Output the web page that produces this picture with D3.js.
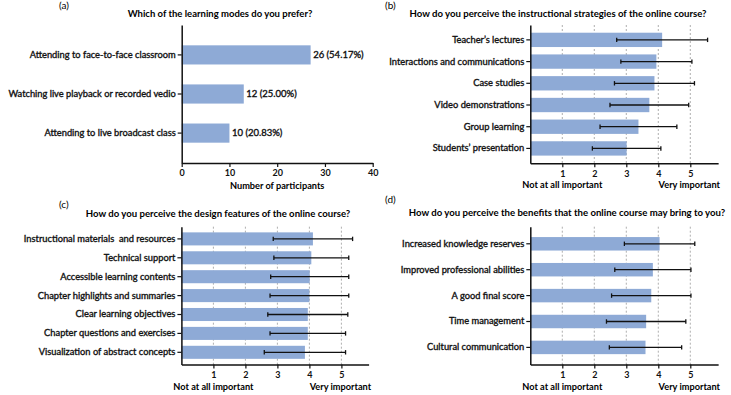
<!DOCTYPE html>
<html>
<head>
<meta charset="utf-8">
<script src="https://cdn.jsdelivr.net/npm/d3@7"></script>
<style>
  body { margin: 0; background: #fff; }
  svg text { font-family: Lato, "Open Sans", sans-serif; white-space: pre; }
</style>
</head>
<body>
<div id="chart"></div>
<script>
// ---- data ----
const modeLabels = ["Attending to face-to-face classroom", "Watching live playback or recorded vedio", "Attending to live broadcast class"];
const modeBars = [27, 13, 10];           // bar lengths as drawn
const modeText = ["26 (54.17%)", "12 (25.00%)", "10 (20.83%)"];
const countTicks = [0, 10, 20, 30, 40];

const strategyLabels = ["Teacher’s lectures", "Interactions and communications", "Case studies", "Video demonstrations", "Group learning", "Students’ presentation"];
const strategyMeans = [4.12, 3.94, 3.88, 3.72, 3.38, 3.01];
const strategySD = [1.42, 1.11, 1.25, 1.23, 1.2, 1.07];

const designLabels = ["Instructional materials  and resources", "Technical support", "Accessible learning contents", "Chapter highlights and summaries", "Clear learning objectives", "Chapter questions and exercises", "Visualization of abstract concepts"];
const designMeans = [4.11, 4.06, 4.01, 4.0, 3.95, 3.95, 3.86];
const designSD = [1.24, 1.17, 1.22, 1.23, 1.25, 1.18, 1.27];

const benefitLabels = ["Increased knowledge reserves", "Improved professional abilities", "A good final score", "Time management", "Cultural communication"];
const benefitMeans = [4.04, 3.83, 3.78, 3.62, 3.6];
const benefitSD = [1.1, 1.19, 1.24, 1.24, 1.13];

const likertTicks = [1, 2, 3, 4, 5];

const barColor = "#8eaad6";

const svg = d3.select("#chart").append("svg")
    .attr("width", 731)
    .attr("height", 395);

function styleAxis(g) {
    g.select(".domain").attr("stroke", "#111").attr("stroke-width", 1.5);
    g.selectAll(".tick line").attr("stroke", "#111").attr("stroke-width", 1.2);
    g.selectAll(".tick text").attr("fill", "#111").attr("font-size", 9);
}

// semi-bold look without widening the text
function semi(sel) {
    sel.attr("stroke", "#111").attr("stroke-width", 0.35).attr("font-size", 9.3);
}

// ---- panel (a) ----
(function () {
    let left = 181.7, right = 372.7, top = 25, bottom = 163;

    let x = d3.scaleLinear().domain([0, 40]).range([left, right]);
    let y = d3.scaleBand().domain(modeLabels).range([top, bottom])
        .paddingInner(0.51).paddingOuter(0.52);

    let g = svg.append("g");

    g.append("text").attr("x", 59).attr("y", 9)
        .attr("font-size", 10).text("(a)");
    g.append("text").attr("x", 220).attr("y", 17)
        .attr("text-anchor", "middle").attr("font-size", 9.5).attr("font-weight", "bold")
        .text("Which of the learning modes do you prefer?");

    g.selectAll(".bar").data(modeLabels).enter().append("rect")
        .attr("x", x(0))
        .attr("y", d => y(d))
        .attr("width", (d, i) => x(modeBars[i]) - x(0))
        .attr("height", y.bandwidth())
        .attr("fill", barColor);

    g.selectAll(".val").data(modeLabels).enter().append("text")
        .attr("x", (d, i) => x(modeBars[i]) + 2.5)
        .attr("y", d => y(d) + y.bandwidth() / 2)
        .attr("dy", "0.35em")
        .attr("fill", "#111")
        .text((d, i) => modeText[i])
        .call(semi)
        .attr("font-size", 9.5);

    g.append("g").attr("transform", `translate(0,${bottom})`)
        .call(d3.axisBottom(x).tickValues(countTicks).tickSize(4).tickSizeOuter(0).tickPadding(3))
        .call(styleAxis)
        .selectAll(".tick text").attr("font-weight", "bold");

    g.append("g").attr("transform", `translate(${left},0)`)
        .call(d3.axisLeft(y).tickSize(4).tickSizeOuter(0).tickPadding(2))
        .call(styleAxis)
        .selectAll(".tick text").call(semi);

    g.append("text").attr("x", (left + right) / 2).attr("y", 189)
        .attr("text-anchor", "middle").attr("font-size", 9.2).attr("font-weight", "bold")
        .text("Number of participants");
})();

// ---- likert panels (b), (c), (d) ----
function likertPanel(opt) {
    let x = d3.scaleLinear().domain([0, opt.max]).range([opt.left, opt.left + opt.max * 32]);
    let y = d3.scaleBand().domain(opt.labels).range([opt.top, opt.bottom])
        .paddingInner(opt.pi).paddingOuter(opt.po);

    let g = svg.append("g");

    g.append("text").attr("x", opt.tagX).attr("y", opt.tagY)
        .attr("font-size", 10).text(opt.tag);
    g.append("text").attr("x", opt.titleX).attr("y", opt.titleY)
        .attr("text-anchor", "middle").attr("font-size", 9.6).attr("font-weight", "bold")
        .text(opt.title);

    // dashed grid
    g.selectAll(".grid").data(likertTicks).enter().append("line")
        .attr("x1", d => x(d)).attr("x2", d => x(d))
        .attr("y1", opt.top).attr("y2", opt.bottom)
        .attr("stroke", "#9a9a9a").attr("stroke-width", 0.8)
        .attr("stroke-dasharray", "2,2");

    g.selectAll(".bar").data(opt.labels).enter().append("rect")
        .attr("x", x(0))
        .attr("y", d => y(d))
        .attr("width", (d, i) => x(opt.means[i]) - x(0))
        .attr("height", y.bandwidth())
        .attr("fill", barColor);

    // error bars (mean ± SD)
    let err = g.selectAll(".err").data(opt.labels).enter().append("g")
        .attr("transform", d => `translate(0,${y(d) + y.bandwidth() / 2})`)
        .attr("stroke", "#111").attr("stroke-width", 1.3);
    err.append("line")
        .attr("x1", (d, i) => x(opt.means[i] - opt.sd[i]))
        .attr("x2", (d, i) => x(opt.means[i] + opt.sd[i]));
    err.append("line")
        .attr("x1", (d, i) => x(opt.means[i] - opt.sd[i]))
        .attr("x2", (d, i) => x(opt.means[i] - opt.sd[i]))
        .attr("y1", -2.2).attr("y2", 2.2);
    err.append("line")
        .attr("x1", (d, i) => x(opt.means[i] + opt.sd[i]))
        .attr("x2", (d, i) => x(opt.means[i] + opt.sd[i]))
        .attr("y1", -2.2).attr("y2", 2.2);

    g.append("g").attr("transform", `translate(0,${opt.bottom})`)
        .call(d3.axisBottom(x).tickValues(likertTicks).tickFormat(d3.format("d"))
            .tickSize(4).tickSizeOuter(0).tickPadding(3))
        .call(styleAxis)
        .selectAll(".tick text").attr("font-weight", "bold");

    g.append("g").attr("transform", `translate(${opt.left},0)`)
        .call(d3.axisLeft(y).tickSize(4).tickSizeOuter(0).tickPadding(2))
        .call(styleAxis)
        .selectAll(".tick text").call(semi);

    g.append("text").attr("x", x(1)).attr("y", opt.bottom + 25)
        .attr("text-anchor", "middle").attr("font-size", 9.2).attr("font-weight", "bold")
        .text("Not at all important");
    g.append("text").attr("x", x(5) - 1).attr("y", opt.bottom + 25)
        .attr("text-anchor", "middle").attr("font-size", 9.2).attr("font-weight", "bold")
        .text("Very important");
}

likertPanel({
    tag: "(b)", tagX: 385, tagY: 9,
    title: "How do you perceive the instructional strategies of the online course?", titleX: 558, titleY: 17,
    labels: strategyLabels, means: strategyMeans, sd: strategySD,
    left: 530.3, top: 25, bottom: 163.3, max: 5.87, pi: 0.34, po: 0.355
});

likertPanel({
    tag: "(c)", tagX: 59, tagY: 208,
    title: "How do you perceive the design features of the online course?", titleX: 218, titleY: 217,
    labels: designLabels, means: designMeans, sd: designSD,
    left: 181.4, top: 226.7, bottom: 364.5, max: 5.85, pi: 0.31, po: 0.3
});

likertPanel({
    tag: "(d)", tagX: 385, tagY: 203,
    title: "How do you perceive the benefits that the online course may bring to you?", titleX: 567, titleY: 216,
    labels: benefitLabels, means: benefitMeans, sd: benefitSD,
    left: 530.3, top: 226.7, bottom: 364.5, max: 5.87, pi: 0.48, po: 0.4
});
</script>
</body>
</html>
